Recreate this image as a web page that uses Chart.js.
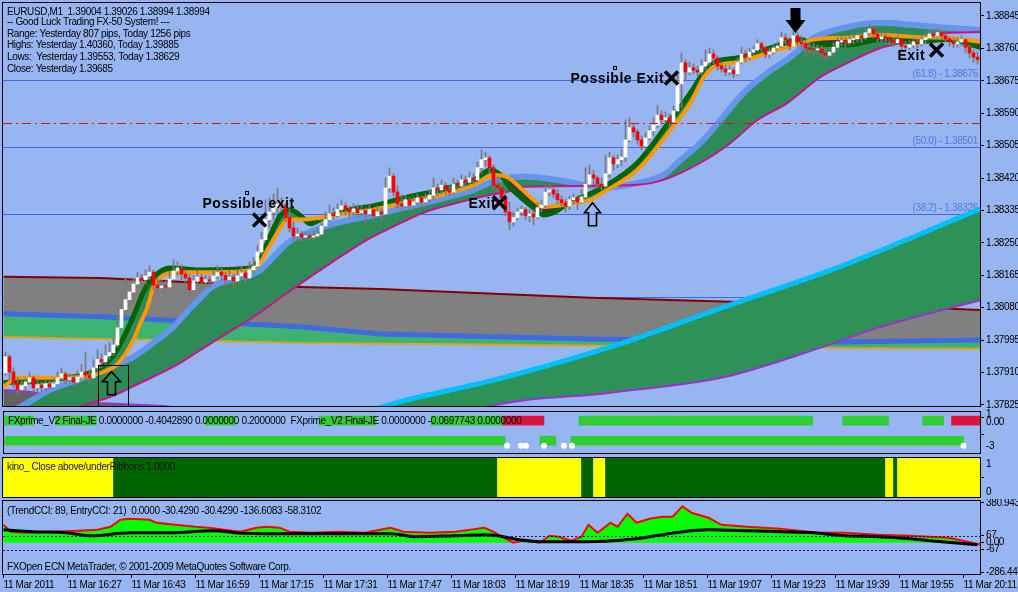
<!DOCTYPE html>
<html><head><meta charset="utf-8">
<script src="https://cdn.jsdelivr.net/npm/chart.js"></script>
<style>
html,body{margin:0;padding:0;background:#97B5F0;width:1018px;height:592px;overflow:hidden;}
canvas{position:absolute;left:0;}
</style></head><body>
<canvas id="cMain" width="1018" height="408" style="top:0px"></canvas>
<canvas id="cFx" width="1018" height="49" style="top:408px"></canvas>
<canvas id="cKino" width="1018" height="43" style="top:456px"></canvas>
<canvas id="cCci" width="1018" height="93" style="top:499px"></canvas>
<script>
// ================= DATA =================
const firstOpen = 1.37909;
// M1 candles (open of each bar = previous close)
const closes = [
1.37951,1.37911,1.37883,1.37865,1.37875,1.37885,1.37896,1.37870,1.37877,1.37870,
1.37880,1.37872,1.37880,1.37896,1.37906,1.37891,1.37896,1.37885,1.37898,1.37911,
1.37903,1.37896,1.37922,1.37944,1.37938,1.37954,1.37962,1.37982,1.38027,1.38075,
1.38101,1.38121,1.38142,1.38158,1.38153,1.38163,1.38173,1.38139,1.38132,1.38137,
1.38134,1.38155,1.38176,1.38184,1.38168,1.38158,1.38127,1.38150,1.38160,1.38147,
1.38153,1.38150,1.38163,1.38173,1.38165,1.38153,1.38160,1.38150,1.38163,1.38171,
1.38158,1.38179,1.38189,1.38226,1.38258,1.38311,1.38331,1.38342,1.38352,1.38347,
1.38316,1.38289,1.38268,1.38273,1.38265,1.38268,1.38265,1.38268,1.38273,1.38294,
1.38311,1.38326,1.38321,1.38337,1.38347,1.38337,1.38331,1.38339,1.38329,1.38334,
1.38326,1.38337,1.38321,1.38331,1.38326,1.38394,1.38425,1.38383,1.38352,1.38347,
1.38363,1.38349,1.38357,1.38368,1.38357,1.38365,1.38375,1.38394,1.38389,1.38401,
1.38389,1.38383,1.38404,1.38399,1.38415,1.38409,1.38420,1.38415,1.38447,1.38468,
1.38473,1.38447,1.38401,1.38394,1.38368,1.38331,1.38305,1.38316,1.38331,1.38337,
1.38321,1.38326,1.38318,1.38342,1.38349,1.38383,1.38389,1.38378,1.38363,1.38355,
1.38347,1.38363,1.38368,1.38357,1.38370,1.38404,1.38428,1.38420,1.38404,1.38399,
1.38431,1.38473,1.38457,1.38468,1.38475,1.38520,1.38552,1.38541,1.38520,1.38504,
1.38525,1.38544,1.38559,1.38585,1.38573,1.38578,1.38567,1.38596,1.38667,1.38722,
1.38698,1.38709,1.38703,1.38698,1.38714,1.38724,1.38745,1.38735,1.38714,1.38706,
1.38698,1.38703,1.38693,1.38724,1.38745,1.38737,1.38750,1.38756,1.38772,1.38761,
1.38745,1.38750,1.38761,1.38766,1.38788,1.38783,1.38766,1.38793,1.38777,1.38772,
1.38761,1.38758,1.38756,1.38758,1.38748,1.38742,1.38750,1.38763,1.38777,1.38780,
1.38775,1.38783,1.38785,1.38793,1.38788,1.38801,1.38811,1.38798,1.38785,1.38790,
1.38788,1.38780,1.38775,1.38783,1.38766,1.38763,1.38769,1.38777,1.38772,1.38783,
1.38788,1.38798,1.38793,1.38801,1.38793,1.38785,1.38777,1.38772,1.38777,1.38783,
1.38763,1.38748,1.38737,1.38730];
const highs = [
1.37964,1.37956,1.37922,1.37898,1.37891,1.37896,1.37911,1.37901,1.37891,1.37885,
1.37891,1.37888,1.37896,1.37911,1.37922,1.37911,1.37906,1.37903,1.37914,1.37930,
1.37964,1.37917,1.37944,1.37970,1.37959,1.37982,1.37988,1.38001,1.38082,1.38127,
1.38158,1.38139,1.38158,1.38173,1.38168,1.38179,1.38189,1.38179,1.38158,1.38153,
1.38150,1.38173,1.38206,1.38200,1.38192,1.38179,1.38168,1.38165,1.38179,1.38168,
1.38165,1.38163,1.38179,1.38189,1.38184,1.38173,1.38179,1.38168,1.38179,1.38189,
1.38179,1.38200,1.38211,1.38244,1.38278,1.38363,1.38368,1.38378,1.38394,1.38368,
1.38352,1.38337,1.38305,1.38289,1.38281,1.38278,1.38276,1.38281,1.38289,1.38311,
1.38331,1.38349,1.38342,1.38352,1.38363,1.38355,1.38347,1.38352,1.38349,1.38347,
1.38342,1.38349,1.38339,1.38347,1.38342,1.38420,1.38447,1.38431,1.38399,1.38375,
1.38373,1.38368,1.38370,1.38378,1.38373,1.38378,1.38389,1.38420,1.38404,1.38415,
1.38407,1.38399,1.38420,1.38415,1.38428,1.38425,1.38436,1.38431,1.38462,1.38494,
1.38488,1.38478,1.38454,1.38425,1.38409,1.38383,1.38357,1.38331,1.38342,1.38347,
1.38342,1.38337,1.38334,1.38355,1.38363,1.38399,1.38404,1.38394,1.38389,1.38373,
1.38365,1.38373,1.38378,1.38373,1.38389,1.38447,1.38454,1.38441,1.38425,1.38420,
1.38480,1.38488,1.38478,1.38480,1.38494,1.38573,1.38578,1.38562,1.38547,1.38530,
1.38539,1.38557,1.38578,1.38611,1.38596,1.38593,1.38588,1.38609,1.38698,1.38748,
1.38730,1.38724,1.38719,1.38714,1.38730,1.38756,1.38761,1.38756,1.38740,1.38724,
1.38716,1.38714,1.38709,1.38735,1.38763,1.38756,1.38761,1.38766,1.38783,1.38777,
1.38766,1.38761,1.38772,1.38777,1.38803,1.38798,1.38788,1.38809,1.38801,1.38793,
1.38783,1.38775,1.38772,1.38769,1.38766,1.38761,1.38761,1.38775,1.38788,1.38790,
1.38788,1.38793,1.38795,1.38803,1.38798,1.38814,1.38824,1.38814,1.38803,1.38801,
1.38798,1.38793,1.38788,1.38793,1.38783,1.38777,1.38780,1.38788,1.38785,1.38793,
1.38798,1.38809,1.38806,1.38814,1.38809,1.38798,1.38790,1.38788,1.38788,1.38793,
1.38783,1.38769,1.38756,1.38750];
const lows = [
1.37903,1.37891,1.37870,1.37851,1.37859,1.37865,1.37880,1.37859,1.37851,1.37859,
1.37865,1.37865,1.37870,1.37875,1.37891,1.37880,1.37885,1.37875,1.37880,1.37896,
1.37891,1.37880,1.37891,1.37911,1.37922,1.37930,1.37944,1.37954,1.37977,1.38022,
1.38061,1.38087,1.38108,1.38134,1.38139,1.38142,1.38153,1.38127,1.38116,1.38121,
1.38113,1.38132,1.38153,1.38163,1.38153,1.38142,1.38111,1.38121,1.38139,1.38132,
1.38137,1.38134,1.38142,1.38155,1.38153,1.38137,1.38145,1.38132,1.38147,1.38155,
1.38145,1.38153,1.38173,1.38184,1.38218,1.38258,1.38289,1.38311,1.38329,1.38331,
1.38305,1.38278,1.38252,1.38258,1.38255,1.38258,1.38258,1.38258,1.38263,1.38268,
1.38289,1.38305,1.38311,1.38316,1.38326,1.38323,1.38316,1.38321,1.38316,1.38321,
1.38305,1.38321,1.38305,1.38316,1.38311,1.38323,1.38383,1.38373,1.38342,1.38331,
1.38342,1.38337,1.38344,1.38349,1.38344,1.38352,1.38357,1.38363,1.38373,1.38378,
1.38375,1.38373,1.38378,1.38389,1.38394,1.38399,1.38401,1.38404,1.38409,1.38431,
1.38452,1.38431,1.38389,1.38383,1.38357,1.38321,1.38284,1.38294,1.38311,1.38321,
1.38311,1.38305,1.38297,1.38313,1.38331,1.38342,1.38373,1.38368,1.38352,1.38344,
1.38331,1.38337,1.38352,1.38337,1.38352,1.38363,1.38394,1.38404,1.38394,1.38389,
1.38394,1.38420,1.38441,1.38447,1.38452,1.38462,1.38514,1.38527,1.38509,1.38494,
1.38499,1.38520,1.38530,1.38552,1.38562,1.38565,1.38557,1.38562,1.38593,1.38604,
1.38677,1.38690,1.38693,1.38688,1.38690,1.38703,1.38714,1.38719,1.38703,1.38698,
1.38688,1.38690,1.38683,1.38688,1.38719,1.38724,1.38730,1.38742,1.38750,1.38750,
1.38735,1.38735,1.38745,1.38756,1.38761,1.38772,1.38756,1.38766,1.38766,1.38756,
1.38740,1.38745,1.38740,1.38745,1.38735,1.38730,1.38735,1.38740,1.38756,1.38766,
1.38763,1.38769,1.38772,1.38777,1.38775,1.38783,1.38793,1.38788,1.38777,1.38777,
1.38777,1.38769,1.38766,1.38769,1.38756,1.38756,1.38756,1.38761,1.38761,1.38766,
1.38772,1.38783,1.38783,1.38788,1.38783,1.38777,1.38766,1.38761,1.38763,1.38766,
1.38750,1.38735,1.38724,1.38719];

// price axis
const priceTicks = [1.37825,1.37910,1.37995,1.38080,1.38165,1.38250,1.38335,1.38420,1.38505,1.38590,1.38675,1.38760,1.38845];
const priceTickLabels = ['1.37825','1.37910','1.37995','1.38080','1.38165','1.38250','1.38335','1.38420','1.38505','1.38590','1.38675','1.38760','1.38845'];
// time axis (bar index of each label)
const timeTickBars = [0,16,32,48,64,80,96,112,128,144,160,176,192,208,224,240];
const timeLabels = ['11 Mar 2011','11 Mar 16:27','11 Mar 16:43','11 Mar 16:59','11 Mar 17:15','11 Mar 17:31','11 Mar 17:47','11 Mar 18:03','11 Mar 18:19','11 Mar 18:35','11 Mar 18:51','11 Mar 19:07','11 Mar 19:23','11 Mar 19:39','11 Mar 19:55','11 Mar 20:11'];

// indicator lines [bar, price]
const orangeLine = [[0,1.37872],[3.5,1.37896],[11.75,1.37896],[20,1.37898],[24.25,1.37909],[27.5,1.37924],[30,1.37951],[32.5,1.37996],[34.25,1.38040],[36,1.38082],[37.5,1.38134],[40,1.38165],[45,1.38173],[53.5,1.38173],[61.75,1.38179],[64.25,1.38198],[66,1.38232],[68.5,1.38276],[71,1.38311],[74.25,1.38311],[79.25,1.38316],[86.75,1.38329],[92.5,1.38337],[101,1.38357],[109.25,1.38375],[117.5,1.38401],[122.5,1.38428],[126,1.38422],[129.25,1.38394],[132.5,1.38363],[135,1.38344],[138.5,1.38347],[142.5,1.38355],[146.75,1.38363],[150,1.38383],[158.5,1.38441],[166.75,1.38546],[171.75,1.38617],[175,1.38683],[177.5,1.38711],[183.5,1.38724],[191.75,1.38750],[200,1.38775],[202.5,1.38783],[211,1.38788],[219.25,1.38795],[227.5,1.38790],[236,1.38788],[244.25,1.38777]];
const darkGreenLine = [[0,1.37883],[11.75,1.37891],[24.25,1.37922],[27.5,1.37956],[30,1.38001],[32.5,1.38058],[35,1.38121],[37.5,1.38160],[41.75,1.38184],[49.25,1.38179],[61.75,1.38184],[64.25,1.38211],[66.75,1.38270],[69.25,1.38323],[71.75,1.38337],[74.25,1.38321],[76.75,1.38300],[79.25,1.38311],[86.75,1.38337],[92.5,1.38347],[101,1.38370],[109.25,1.38389],[117.5,1.38415],[121.75,1.38441],[124.25,1.38428],[126.75,1.38394],[129.25,1.38370],[132.5,1.38342],[135,1.38323],[137.5,1.38329],[140.5,1.38349],[144.25,1.38368],[150,1.38396],[158.5,1.38460],[166.75,1.38572],[171.75,1.38643],[175,1.38696],[177.5,1.38722],[183.5,1.38735],[191.75,1.38761],[199.25,1.38783],[202.5,1.38772],[211,1.38769],[219.25,1.38783],[227.5,1.38777],[236,1.38783],[244.25,1.38763]];
const ribbonTop = [[0,1.37799],[4.25,1.37820],[11.75,1.37865],[20,1.37896],[26.75,1.37925],[32.5,1.37951],[37.5,1.37988],[42.5,1.38030],[47.5,1.38087],[52.5,1.38137],[57.5,1.38155],[64.25,1.38179],[67.5,1.38213],[71,1.38250],[76,1.38276],[82.5,1.38300],[86.75,1.38310],[92.5,1.38323],[101,1.38344],[109.25,1.38365],[117.5,1.38389],[123.5,1.38415],[130,1.38423],[138.5,1.38415],[146.75,1.38399],[150,1.38394],[158.5,1.38407],[165,1.38428],[169.25,1.38467],[174.25,1.38512],[179.25,1.38572],[185,1.38643],[191,1.38696],[196.75,1.38737],[202.5,1.38787],[211,1.38816],[219.25,1.38827],[227.5,1.38821],[236,1.38814],[244.25,1.38808]];
const ribbonBottom = [[0,1.37733],[11.75,1.37773],[19.25,1.37820],[26.75,1.37846],[34.25,1.37883],[42.5,1.37925],[49.25,1.37969],[56,1.38014],[62.5,1.38056],[71,1.38119],[79.25,1.38179],[86.75,1.38231],[91.75,1.38263],[96.75,1.38289],[105,1.38329],[113.5,1.38355],[121.75,1.38376],[126,1.38384],[130,1.38397],[146.75,1.38399],[158.5,1.38402],[165,1.38415],[174.25,1.38460],[181.75,1.38512],[188.5,1.38572],[196,1.38617],[204.25,1.38685],[211,1.38722],[219.25,1.38761],[224.25,1.38774],[229.25,1.38790],[236,1.38800],[244.25,1.38803]];
const cloudTop = [[0,1.38161],[24.25,1.38158],[49.25,1.38145],[74.25,1.38134],[94.25,1.38129],[146.75,1.38106],[184.25,1.38095],[236.75,1.38077],[244.25,1.38074]];
const cloudBlue = [[0,1.38064],[24.25,1.38056],[49.25,1.38043],[74.25,1.38030],[94.25,1.38011],[146.75,1.37998],[209.25,1.37990],[244.25,1.37995]];
const cloudGold = [[0,1.38003],[24.25,1.37998],[49.25,1.37993],[74.25,1.37987],[99.25,1.37985],[149.25,1.37980],[199.25,1.37975],[244.25,1.37972]];
const lowBandLine = [[0,1.37864],[4.25,1.37862],[10,1.37854],[23.5,1.37830],[40,1.37822],[49.25,1.37812]];
const slowTop = [[74.25,1.37746],[96.25,1.37825],[123,1.37891],[151.75,1.37977],[180.25,1.38082],[209,1.38187],[244.25,1.38339]];
const slowBottom = [[74.25,1.37681],[99.25,1.37734],[121,1.37820],[151.75,1.37857],[180.25,1.37898],[204.25,1.37975],[218.5,1.38027],[244.25,1.38100]];

// horizontal levels
const fibLevels = [1.38676,1.38501,1.38326,1.38108];
const fibLabels = ['(61.8) - 1.38676','(50.0) - 1.38501','(38.2) - 1.38326',''];
const redLevel = 1.38565;

// annotations (bar index, price)
const noteTexts = [
  {text:'Possible exit', bar:49.75, price:1.38342},
  {text:'Exit', bar:116.25, price:1.38342},
  {text:'Possible Exit', bar:141.75, price:1.38669},
  {text:'Exit', bar:223.5, price:1.38730}];
const crossMarks = [{bar:64,price:1.38310},{bar:124,price:1.38355},{bar:167,price:1.38682},{bar:233.25,price:1.38756}];
const anchorMarks = [{bar:60.75,price:1.38381},{bar:152.75,price:1.38709}];
const arrowMarks = [{dir:'up',bar:27,price:1.37912,w:9},{dir:'up',bar:147.25,price:1.38355,w:8},{dir:'down',bar:198,price:1.38800,w:10}];
const signalBox = {bar0:23.5, bar1:31, priceTop:1.37930};
const infoLines = ['EURUSD,M1  1.39004 1.39026 1.38994 1.38994','-- Good Luck Trading FX-50 System! ---','Range: Yesterday 807 pips, Today 1256 pips','Highs: Yesterday 1.40360, Today 1.39885','Lows:  Yesterday 1.39553, Today 1.38629','Close: Yesterday 1.39685'];

// FXprime panel: [startBar, endBar, sign]
const fxRow1 = [[0,7.25,1],[12.75,23,1],[50.25,57.75,1],[78.75,93,1],[106.75,124.75,1],[124.75,135,-1],[143.75,202.25,1],[209.75,221.25,1],[229.75,235,1],[237,244.25,-1]];
const fxRow2 = [[0,125.25,1],[134,138,1],[141.75,240,1]];
const fxDots = [125.75,129.25,130.5,135,140,142,240];
const fxRow1Level = 0.17, fxRow2Level = -2.28, fxDotLevel = -2.9;
const fxTicks = [-3,0,1], fxTickLabels = ['-3','0.00','1'];
const fxText = 'FXprime_V2 Final-JE 0.0000000 -0.4042890 0.0000000 0.2000000  FXprime_V2 Final-JE 0.0000000 -0.0697743 0.0000000';

// kino panel: [startBar, endBar, state] 1 = above ribbons (dark green), 0 = yellow
const kinoSegs = [[0,27.5,0],[27.5,123.5,1],[123.5,144.5,0],[144.5,147.5,1],[147.5,150.5,0],[150.5,220.5,1],[220.5,222.5,0],[222.5,223.5,1],[223.5,244.25,0]];
const kinoTicks = [0,1], kinoTickLabels = ['0','1'];
const kinoText = 'kino_ Close above/underRibbons 1.0000';

// CCI panel [bar, value]
const cciEntry = [[0,172],[1.75,105],[5.75,96],[12.25,105],[18.75,115],[23.5,124],[26.75,153],[29.25,220],[31.75,230],[36.5,220],[38.25,191],[43,172],[48,153],[51.25,144],[55.25,124],[59.25,105],[63.25,144],[65.75,153],[69,144],[71.5,105],[77.25,96],[83.75,105],[90.25,96],[96.75,144],[100,105],[106.5,96],[113,105],[120.25,144],[122.5,105],[125,48],[127.5,0],[130.75,29],[134,0],[136.5,67],[138.75,57],[142,19],[144.5,57],[146.25,172],[148.5,96],[151.75,191],[153.5,153],[156,278],[158.25,191],[161.5,230],[164.75,249],[167.25,249],[169.75,350],[172,287],[176.25,239],[179.5,172],[186,153],[194,134],[203.75,96],[210.25,96],[218.5,77],[226.5,67],[231.25,57],[236.25,48],[241,10],[244.25,-19]];
const cciTrend = [[0,124],[7.25,105],[15.5,96],[22,67],[31.75,96],[41.5,96],[52.75,115],[57.75,96],[67.5,86],[80.5,86],[96.75,86],[103.25,57],[113,67],[121,77],[129,29],[134,10],[145.25,10],[158.25,38],[168,96],[176.25,124],[186,115],[194,105],[202.25,96],[210.25,67],[218.5,57],[226.5,38],[234.5,10],[243.5,-19]];
const cciLevels = [67,-67];
const cciTicks = [-286.447,-67,0,67,380.943], cciTickLabels = ['-286.447','-67','0.00','67','380.943'];
const cciTexts = ['(TrendCCI: 89, EntryCCI: 21)  0.0000 -30.4290 -30.4290 -136.6083 -58.3102','FXOpen ECN MetaTrader, \u00A9 2001-2009 MetaQuotes Software Corp.'];

// ================= RENDER =================
const FAM = '"Liberation Sans", Arial, sans-serif';
const FONT = '10px ' + FAM;
const XMIN = -0.125, XMAX = 244.125;
const TIGHT = '-0.35px';

// narrower text spacing for every chart (axis labels included)
Chart.register({id:'tightText', beforeDraw(chart){ if ('letterSpacing' in chart.ctx) chart.ctx.letterSpacing = TIGHT; }});

function xy(pts){ return pts.map(p => ({x:p[0], y:p[1]})); }
function line(pts, color, width, order, extra){
  return Object.assign({type:'line', data:xy(pts), borderColor:color, borderWidth:width,
    pointRadius:0, pointHoverRadius:0, fill:false, cubicInterpolationMode:'monotone',
    order:order, clip:0}, extra || {});
}
function rightAxis(min, max, values, labels){
  return {type:'linear', position:'right', min:min, max:max, offset:false,
    grid:{drawOnChartArea:false, drawTicks:true, tickLength:4, color:'#000'},
    border:{display:false},
    ticks:{color:'#000', font:{family:FAM, size:10}, padding:2, autoSkip:false, maxRotation:0,
      callback:(v,i)=>labels[i]},
    afterBuildTicks:(s)=>{ s.ticks = values.map(v=>({value:v})); },
    afterFit:(s)=>{ s.width = 38; s.paddingTop = 0; s.paddingBottom = 0; }};
}
function hiddenX(){ return {type:'linear', min:XMIN, max:XMAX, display:false, offset:false}; }
function frame(ctx, a){
  ctx.save(); ctx.strokeStyle = '#000'; ctx.lineWidth = 1;
  ctx.strokeRect(a.left-0.5, a.top-0.5, a.right-a.left+1, a.bottom-a.top+1);
  ctx.restore();
}
const baseOpts = {responsive:false, animation:false, events:[],
  plugins:{legend:{display:false}, tooltip:{enabled:false}}};

// ---- main chart ----
const opens = closes.map((c,i)=> i===0 ? firstOpen : closes[i-1]);
const bodyData = closes.map((c,i)=>({x:i+0.5, y:[opens[i], c]}));
const wickData = closes.map((c,i)=>({x:i+0.5, y:[lows[i], highs[i]]}));
const bodyColors = closes.map((c,i)=> c >= opens[i] ? '#FFFFFF' : '#FF0000');

const mainDatasets = [
  line(lowBandLine, '#9932CC', 2, 95, {fill:'start', backgroundColor:'#626262', tension:0, cubicInterpolationMode:'default'}), //0
  line(cloudBlue, '#4169E1', 5, 85, {fill:{target:2}, backgroundColor:'#3CB371', tension:0, cubicInterpolationMode:'default'}), //1
  line(cloudGold, '#DAA520', 2, 84, {tension:0, cubicInterpolationMode:'default'}), //2
  line(cloudTop, '#800000', 2, 88, {fill:{target:1}, backgroundColor:'#808080', tension:0, cubicInterpolationMode:'default'}), //3
  line(ribbonBottom, '#C71585', 2, 70), //4
  line(ribbonTop, '#6495ED', 6, 71, {fill:{target:4}, backgroundColor:'#2E8B57'}), //5
  line(slowBottom, '#9932CC', 2, 60), //6
  line(slowTop, '#00BFFF', 5, 61, {fill:{target:6}, backgroundColor:'#2E9157'}), //7
  line(orangeLine, '#FF9900', 4, 50), //8
  line(darkGreenLine, '#006400', 5, 51, {fill:{target:8, above:'#2E8B57', below:'#3A3A3A'}}), //9
  {type:'bar', data:wickData, backgroundColor:'#7A7A7A', barThickness:1, grouped:false, order:2, clip:0, borderWidth:0},
  {type:'bar', data:bodyData, backgroundColor:bodyColors, barThickness:3, grouped:false, order:1, clip:0, borderWidth:0, minBarLength:1}
];

const mainDecor = {
  id:'mainDecor',
  beforeDatasetsDraw(chart){
    const {ctx, chartArea:a, scales:{x, y}} = chart;
    ctx.save();
    ctx.beginPath(); ctx.rect(a.left, a.top, a.right-a.left, a.bottom-a.top); ctx.clip();
    ctx.strokeStyle = '#4169E1'; ctx.lineWidth = 1;
    fibLevels.forEach(v=>{ const py = Math.round(y.getPixelForValue(v))+0.5;
      ctx.beginPath(); ctx.moveTo(a.left, py); ctx.lineTo(a.right, py); ctx.stroke(); });
    ctx.fillStyle = '#5577DD'; ctx.font = FONT; ctx.textAlign = 'right'; ctx.textBaseline = 'alphabetic';
    fibLevels.forEach((v,i)=>{ if (fibLabels[i]) ctx.fillText(fibLabels[i], a.right-2, y.getPixelForValue(v)-3); });
    ctx.restore();
  },
  afterDatasetsDraw(chart){
    const {ctx, chartArea:a, scales:{x, y}} = chart;
    ctx.save();
    ctx.beginPath(); ctx.rect(a.left, a.top, a.right-a.left, a.bottom-a.top); ctx.clip();
    // red dash-dot level
    const ry = Math.round(y.getPixelForValue(redLevel))+0.5;
    ctx.strokeStyle = '#E01010'; ctx.lineWidth = 1; ctx.setLineDash([9,4,2,4]);
    ctx.beginPath(); ctx.moveTo(a.left, ry); ctx.lineTo(a.right, ry); ctx.stroke();
    ctx.setLineDash([]);
    // signal box
    const bx0 = Math.round(x.getPixelForValue(signalBox.bar0))+0.5, bx1 = Math.round(x.getPixelForValue(signalBox.bar1))+0.5;
    const by0 = Math.round(y.getPixelForValue(signalBox.priceTop))+0.5;
    ctx.strokeStyle = '#000'; ctx.lineWidth = 1;
    ctx.strokeRect(bx0, by0, bx1-bx0, a.bottom-by0+2);
    // arrows
    arrowMarks.forEach(m=>{
      const px = x.getPixelForValue(m.bar), py = y.getPixelForValue(m.price), w = m.w;
      ctx.beginPath();
      if (m.dir === 'up'){
        ctx.moveTo(px,py); ctx.lineTo(px+w,py+10); ctx.lineTo(px+4,py+10); ctx.lineTo(px+4,py+23);
        ctx.lineTo(px-4,py+23); ctx.lineTo(px-4,py+10); ctx.lineTo(px-w,py+10); ctx.closePath();
        ctx.lineWidth = 1.6; ctx.strokeStyle = '#000'; ctx.stroke();
      } else {
        ctx.moveTo(px,py); ctx.lineTo(px-w,py-13); ctx.lineTo(px-5,py-13); ctx.lineTo(px-5,py-25);
        ctx.lineTo(px+5,py-25); ctx.lineTo(px+5,py-13); ctx.lineTo(px+w,py-13); ctx.closePath();
        ctx.fillStyle = '#000'; ctx.fill();
      }
    });
    // note texts
    ctx.fillStyle = '#000'; ctx.font = 'bold 14px ' + FAM; ctx.textAlign = 'left'; ctx.textBaseline = 'alphabetic';
    if ('letterSpacing' in ctx) ctx.letterSpacing = '0.5px';
    noteTexts.forEach(n=>{ ctx.fillText(n.text, x.getPixelForValue(n.bar), y.getPixelForValue(n.price)); });
    if ('letterSpacing' in ctx) ctx.letterSpacing = TIGHT;
    // anchors
    ctx.strokeStyle = '#000'; ctx.lineWidth = 1;
    anchorMarks.forEach(m=>{ const px = Math.round(x.getPixelForValue(m.bar)), py = Math.round(y.getPixelForValue(m.price));
      ctx.strokeRect(px-1.5, py-1.5, 3, 3); });
    // crosses
    ctx.lineWidth = 3.5; ctx.lineCap = 'butt';
    crossMarks.forEach(m=>{ const px = x.getPixelForValue(m.bar), py = y.getPixelForValue(m.price), s = 6.5;
      ctx.beginPath(); ctx.moveTo(px-s,py-s); ctx.lineTo(px+s,py+s); ctx.moveTo(px+s,py-s); ctx.lineTo(px-s,py+s); ctx.stroke(); });
    ctx.restore();
    // info text
    ctx.save();
    ctx.fillStyle = '#000'; ctx.font = FONT; ctx.textAlign = 'left'; ctx.textBaseline = 'alphabetic';
    const base = [12,22,34,45,57,69];
    infoLines.forEach((t,i)=> ctx.fillText(t, a.left+4, a.top+base[i]));
    ctx.restore();
    frame(ctx, a);
  }
};

new Chart(document.getElementById('cMain'), {
  type:'line',
  data:{datasets:mainDatasets},
  options:Object.assign({}, baseOpts, {
    layout:{padding:{left:3, top:3, right:0, bottom:2}},
    scales:{x:hiddenX(), y:rightAxis(1.37822, 1.38879, priceTicks, priceTickLabels)}
  }),
  plugins:[mainDecor]
});

// ---- FXprime panel ----
new Chart(document.getElementById('cFx'), {
  type:'bar',
  data:{datasets:[
    {type:'bar', indexAxis:'y', data:fxRow1.map(s=>({x:[s[0],s[1]], y:fxRow1Level})), backgroundColor:fxRow1.map(s=> s[2]>0 ? '#32CD32' : '#DC143C'), barThickness:9, grouped:false, clip:0, borderWidth:0, order:3},
    {type:'bar', indexAxis:'y', data:fxRow2.map(s=>({x:[s[0],s[1]], y:fxRow2Level})), backgroundColor:fxRow2.map(s=> s[2]>0 ? '#32CD32' : '#DC143C'), barThickness:9, grouped:false, clip:0, borderWidth:0, order:2},
    {type:'scatter', data:fxDots.map(v=>({x:v, y:fxDotLevel})), pointRadius:3, pointBackgroundColor:'#FFFFFF', pointBorderWidth:0, borderWidth:0, clip:0, order:1}
  ]},
  options:Object.assign({}, baseOpts, {
    indexAxis:'y',
    layout:{padding:{left:3, top:2, right:0, bottom:2}},
    scales:{x:hiddenX(), y:rightAxis(-3.778, 1.222, fxTicks, fxTickLabels)}
  }),
  plugins:[{id:'fxDecor', afterDatasetsDraw(chart){
    const {ctx, chartArea:a} = chart;
    ctx.save(); ctx.fillStyle = '#000'; ctx.font = FONT; ctx.textAlign = 'left'; ctx.textBaseline = 'alphabetic';
    ctx.fillText(fxText, a.left+4, a.top+12); ctx.restore();
    frame(ctx, a);
  }}]
});

// ---- kino panel ----
new Chart(document.getElementById('cKino'), {
  type:'bar',
  data:{datasets:[
    {type:'bar', indexAxis:'y', data:kinoSegs.map(s=>({x:[s[0],s[1]], y:0.5})), backgroundColor:kinoSegs.map(s=> s[2] ? '#006400' : '#FFFF00'), barThickness:42, grouped:false, clip:0, borderWidth:0}
  ]},
  options:Object.assign({}, baseOpts, {
    indexAxis:'y',
    layout:{padding:{left:3, top:2, right:0, bottom:2}},
    scales:{x:hiddenX(), y:rightAxis(-0.179, 1.214, kinoTicks, kinoTickLabels)}
  }),
  plugins:[{id:'kinoDecor', afterDatasetsDraw(chart){
    const {ctx, chartArea:a} = chart;
    ctx.save(); ctx.fillStyle = '#1a1a1a'; ctx.font = FONT; ctx.textAlign = 'left'; ctx.textBaseline = 'alphabetic';
    ctx.fillText(kinoText, a.left+4, a.top+12); ctx.restore();
    frame(ctx, a);
  }}]
});

// ---- CCI panel ----
new Chart(document.getElementById('cCci'), {
  type:'line',
  data:{datasets:[
    line(cciEntry, '#FF0000', 2, 2, {fill:{value:0}, backgroundColor:'#00FF00', tension:0, cubicInterpolationMode:'default'}),
    line(cciTrend, '#000000', 3, 1)
  ]},
  options:Object.assign({}, baseOpts, {
    layout:{padding:{left:3, top:2, right:0, bottom:0}},
    scales:{
      x:{type:'linear', min:XMIN, max:XMAX, position:'bottom', offset:false,
        grid:{drawOnChartArea:false, drawTicks:true, tickLength:4, color:'#000'},
        border:{display:false},
        ticks:{color:'#000', font:{family:FAM, size:10}, padding:1, autoSkip:false, maxRotation:0, minRotation:0, align:'start',
          callback:(v,i)=>timeLabels[i]},
        afterBuildTicks:(s)=>{ s.ticks = timeTickBars.map(v=>({value:v})); },
        afterFit:(s)=>{ s.height = 18; s.paddingLeft = 0; s.paddingRight = 0; }},
      y:rightAxis(-300, 400, cciTicks, cciTickLabels)
    }
  }),
  plugins:[{id:'cciDecor', afterDatasetsDraw(chart){
    const {ctx, chartArea:a, scales:{y}} = chart;
    ctx.save();
    ctx.strokeStyle = '#1C1C70'; ctx.lineWidth = 1; ctx.setLineDash([2,2]);
    cciLevels.forEach(v=>{ const py = Math.round(y.getPixelForValue(v))+0.5;
      ctx.beginPath(); ctx.moveTo(a.left, py); ctx.lineTo(a.right, py); ctx.stroke(); });
    ctx.setLineDash([]);
    ctx.fillStyle = '#000'; ctx.font = FONT; ctx.textAlign = 'left'; ctx.textBaseline = 'alphabetic';
    ctx.fillText(cciTexts[0], a.left+4, a.top+13);
    ctx.fillText(cciTexts[1], a.left+4, a.top+69);
    ctx.restore();
    frame(ctx, a);
  }}]
});
</script>
</body></html>
